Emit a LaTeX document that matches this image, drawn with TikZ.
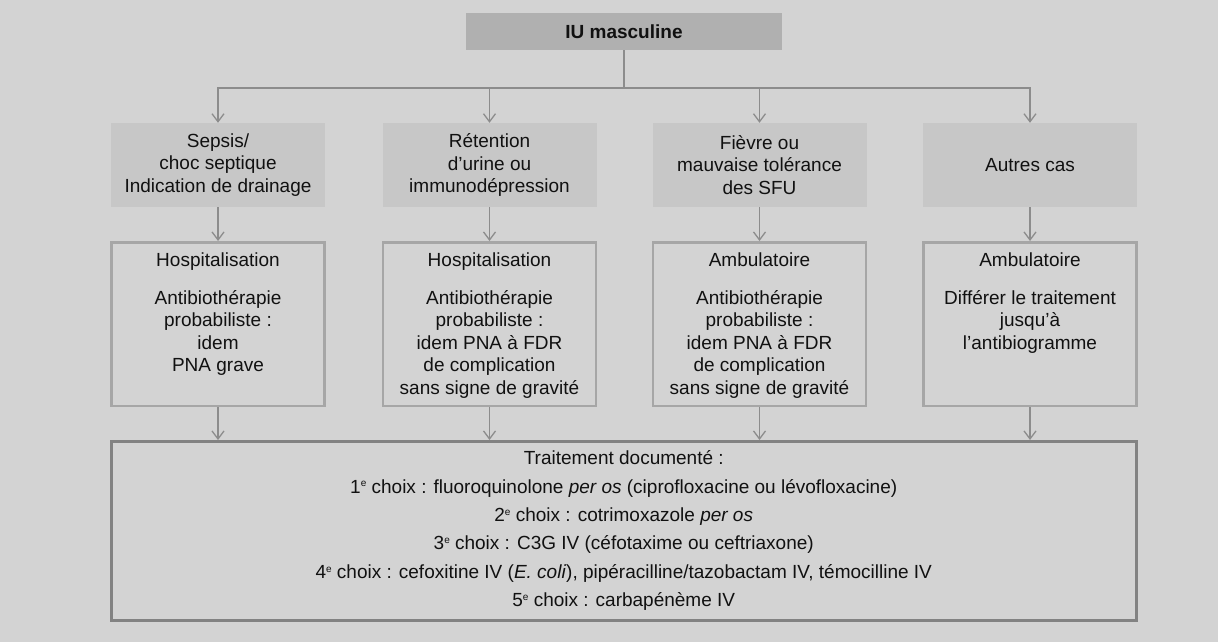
\documentclass[tikz,border=0pt]{standalone}
\usepackage{fontspec}
\setmainfont{Liberation Sans}
\usetikzlibrary{arrows.meta}
\definecolor{iubg}{HTML}{D3D3D3}
\definecolor{iutop}{HTML}{B0B0B0}
\definecolor{iucase}{HTML}{C7C7C7}
\definecolor{iuframe}{HTML}{A6A6A6}
\definecolor{iudoc}{HTML}{828282}
\definecolor{iuline}{HTML}{8C8C8C}
\definecolor{iutext}{HTML}{111111}
\newcommand{\ieme}{\raisebox{0.62ex}{\fontsize{10}{10}\selectfont e}}

\begin{document}
\begin{tikzpicture}[x=1pt,y=-1pt,
  every node/.style={text=iutext,font=\fontsize{19}{22.5}\selectfont,align=center},
  topbox/.style={fill=iutop,minimum width=316pt,minimum height=37pt,font=\fontsize{19}{22.5}\selectfont\bfseries},
  casebox/.style={fill=iucase,minimum width=214pt,minimum height=84pt},
  carebox/.style={draw=iuframe,line width=2.5pt,minimum width=213pt,minimum height=163.5pt},
  caretext/.style={anchor=north,inner sep=0pt},
  docbox/.style={draw=iudoc,line width=3pt,minimum width=1024.5pt,minimum height=178.5pt,font=\fontsize{19}{28.4}\selectfont},
  arr/.style={iuline,line width=1.3pt,-{Straight Barb[length=8pt,width=12pt]}}]
  \fill[iubg](0,0)rectangle(1218,642);
  \useasboundingbox(0,0)rectangle(1218,642);
  % title and cases
  \node[topbox] (iu) at (624,31.5) {IU masculine};
  \node[casebox] (sepsis) at (218,165) {Sepsis/\\choc septique\\Indication de drainage};
  \node[casebox] (retention) at (489.5,165) {Rétention\\d’urine ou\\immunodépression};
  \node[casebox] (fievre) at (759.5,165) {Fièvre ou\\mauvaise tolérance\\des SFU};
  \node[casebox] (autres) at (1030,165) {Autres cas};
  % care boxes
  \node[carebox] (hospA) at (218,324) {};
  \node[caretext] (hospAtxt) at ([yshift=-11.25pt]hospA.north) {Hospitalisation\\[15.5pt]Antibiothérapie\\probabiliste :\\idem\\PNA grave};
  \node[carebox] (hospB) at (489.5,324) {};
  \node[caretext] (hospBtxt) at ([yshift=-11.25pt]hospB.north) {Hospitalisation\\[15.5pt]Antibiothérapie\\probabiliste :\\idem PNA à FDR\\de complication\\sans signe de gravité};
  \node[carebox] (ambuC) at (759.5,324) {};
  \node[caretext] (ambuCtxt) at ([yshift=-11.25pt]ambuC.north) {Ambulatoire\\[15.5pt]Antibiothérapie\\probabiliste :\\idem PNA à FDR\\de complication\\sans signe de gravité};
  \node[carebox] (ambuD) at (1030,324) {};
  \node[caretext] (ambuDtxt) at ([yshift=-11.25pt]ambuD.north) {Ambulatoire\\[15.5pt]Différer le traitement\\jusqu’à\\l’antibiogramme};
  % documented treatment
  \node[docbox] (doc) at (623.75,530.75) {Traitement documenté :\\
    1\ieme{} choix : fluoroquinolone \textit{per os} (ciprofloxacine ou lévofloxacine)\\
    2\ieme{} choix : cotrimoxazole \textit{per os}\\
    3\ieme{} choix : C3G IV (céfotaxime ou ceftriaxone)\\
    4\ieme{} choix : cefoxitine IV (\textit{E. coli}), pipéracilline/tazobactam IV, témocilline IV\\
    5\ieme{} choix : carbapénème IV};
  % connectors
  \coordinate (split) at (624,88);
  \draw[iuline,line width=1.3pt](iu.south)--(split);
  \foreach \n in {sepsis,retention,fievre,autres} \draw[arr](split)-|(\n.north);
  \foreach \a/\b in {sepsis/hospA,retention/hospB,fievre/ambuC,autres/ambuD} \draw[arr](\a)--(\b);
  \foreach \n in {hospA,hospB,ambuC,ambuD} \draw[arr](\n.south)--(\n.south|-doc.north);
\end{tikzpicture}
\end{document}
